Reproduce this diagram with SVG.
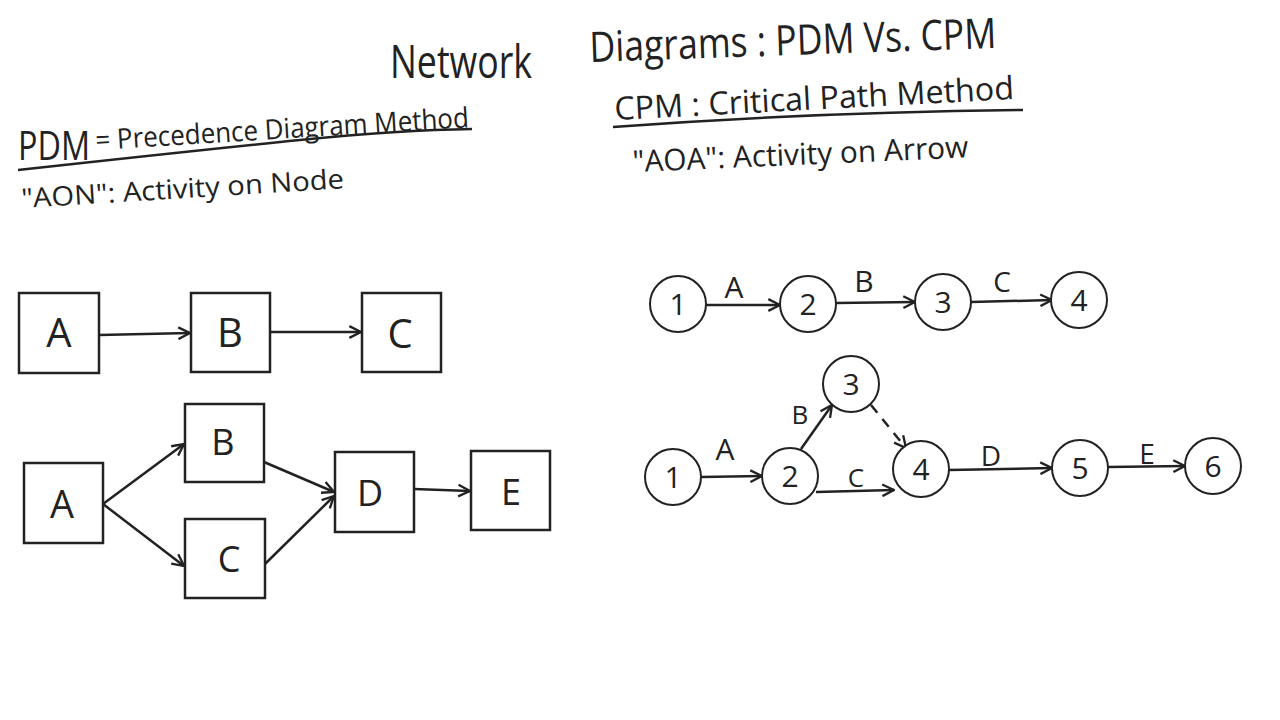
<svg xmlns="http://www.w3.org/2000/svg" width="1280" height="720" viewBox="0 0 1280 720">
<defs>
<marker id="arr" viewBox="0 0 12 12" refX="11" refY="6" markerWidth="14" markerHeight="14" markerUnits="userSpaceOnUse" orient="auto">
<path d="M1,1 L11,6 L1,11" fill="none" stroke="#222" stroke-width="2"/>
</marker>
<style>
.t{font-family:"Open Sans","Liberation Sans",sans-serif;fill:#222}
.box{fill:#fff;stroke:#222;stroke-width:2.5}
.cir{fill:#fff;stroke:#222;stroke-width:2}
.ln{stroke:#222;stroke-width:2.5;fill:none;marker-end:url(#arr)}
.lbl{font-family:"Open Sans","Liberation Sans",sans-serif;fill:#222;text-anchor:middle}
.ul{stroke:#222;stroke-width:2.5;fill:none}
</style>
</defs>
<rect width="1280" height="720" fill="#fff"/>

<g id="titles">
<text class="t" x="390" y="78" font-size="46" textLength="142" lengthAdjust="spacingAndGlyphs">Network</text>
<text class="t" x="590" y="62" font-size="42" textLength="407" lengthAdjust="spacingAndGlyphs" transform="rotate(-2 590 62)">Diagrams : PDM Vs. CPM</text>
<text class="t" x="18" y="160" font-size="40" textLength="72" lengthAdjust="spacingAndGlyphs">PDM</text>
<text class="t" x="96" y="150" font-size="28" textLength="374" lengthAdjust="spacingAndGlyphs" transform="rotate(-3.5 96 150)">= Precedence Diagram Method</text>
<path class="ul" d="M18,170 Q200,150 300,140 T472,129"/>
<text class="t" x="22" y="208" font-size="27" textLength="323" lengthAdjust="spacingAndGlyphs" transform="rotate(-3.5 22 208)">"AON": Activity on Node</text>
<text class="t" x="615" y="120" font-size="32" textLength="400" lengthAdjust="spacingAndGlyphs" transform="rotate(-3 615 120)">CPM : Critical Path Method</text>
<path class="ul" d="M613,127 Q820,112 1023,110"/>
<text class="t" x="633" y="172" font-size="30" textLength="336" lengthAdjust="spacingAndGlyphs" transform="rotate(-2.5 633 172)">"AOA": Activity on Arrow</text>
</g>

<g id="connectors">
<line class="ln" x1="99" y1="335" x2="190" y2="333"/>
<line class="ln" x1="270" y1="332" x2="361" y2="332"/>
<line class="ln" x1="103" y1="504" x2="184" y2="444"/>
<line class="ln" x1="103" y1="504" x2="184" y2="566"/>
<line class="ln" x1="264" y1="462" x2="334" y2="492"/>
<line class="ln" x1="265" y1="564" x2="334" y2="496"/>
<line class="ln" x1="414" y1="489" x2="470" y2="491"/>

<line class="ln" x1="706" y1="305" x2="780" y2="305"/>
<line class="ln" x1="836" y1="303" x2="915" y2="302"/>
<line class="ln" x1="971" y1="302" x2="1052" y2="300"/>

<line class="ln" x1="701" y1="477" x2="762" y2="476"/>
<line class="ln" x1="801" y1="449" x2="832" y2="405"/>
<line class="ln" x1="871" y1="405" x2="906" y2="448" stroke-dasharray="10 8"/>
<line class="ln" x1="816" y1="492" x2="894" y2="490"/>
<line class="ln" x1="949" y1="470" x2="1052" y2="468"/>
<line class="ln" x1="1108" y1="467" x2="1185" y2="466"/>

<text class="lbl" x="734" y="298" font-size="30">A</text>
<text class="lbl" x="864" y="292" font-size="30">B</text>
<text class="lbl" x="1002" y="292" font-size="28">C</text>
<text class="lbl" x="725" y="460" font-size="30">A</text>
<text class="lbl" x="800" y="424" font-size="26">B</text>
<text class="lbl" x="856" y="487" font-size="26">C</text>
<text class="lbl" x="991" y="466" font-size="28">D</text>
<text class="lbl" x="1147" y="464" font-size="28">E</text>
</g>

<g id="pdm-A1"><rect class="box" x="19" y="293" width="80" height="80"/><text class="lbl" x="59" y="347" font-size="40">A</text></g>
<g id="pdm-B1"><rect class="box" x="191" y="293" width="79" height="79"/><text class="lbl" x="230" y="347" font-size="40">B</text></g>
<g id="pdm-C1"><rect class="box" x="362" y="293" width="79" height="79"/><text class="lbl" x="400" y="348" font-size="40">C</text></g>
<g id="pdm-A2"><rect class="box" x="24" y="463" width="79" height="80"/><text class="lbl" x="62" y="518" font-size="38">A</text></g>
<g id="pdm-B2"><rect class="box" x="185" y="404" width="79" height="78"/><text class="lbl" x="223" y="455" font-size="36">B</text></g>
<g id="pdm-C2"><rect class="box" x="185" y="519" width="80" height="79"/><text class="lbl" x="229" y="572" font-size="36">C</text></g>
<g id="pdm-D"><rect class="box" x="335" y="452" width="79" height="80"/><text class="lbl" x="370" y="506" font-size="36">D</text></g>
<g id="pdm-E"><rect class="box" x="471" y="451" width="79" height="79"/><text class="lbl" x="511" y="505" font-size="36">E</text></g>

<g id="cpm1-1"><circle class="cir" cx="678" cy="304" r="28"/><text class="lbl" x="678" y="315" font-size="30">1</text></g>
<g id="cpm1-2"><circle class="cir" cx="808" cy="304" r="28"/><text class="lbl" x="808" y="315" font-size="30">2</text></g>
<g id="cpm1-3"><circle class="cir" cx="943" cy="302" r="28"/><text class="lbl" x="943" y="313" font-size="30">3</text></g>
<g id="cpm1-4"><circle class="cir" cx="1079" cy="300" r="28"/><text class="lbl" x="1079" y="311" font-size="30">4</text></g>

<g id="cpm2-1"><circle class="cir" cx="673" cy="477" r="28"/><text class="lbl" x="673" y="488" font-size="30">1</text></g>
<g id="cpm2-2"><circle class="cir" cx="790" cy="476" r="28"/><text class="lbl" x="790" y="487" font-size="30">2</text></g>
<g id="cpm2-3"><circle class="cir" cx="851" cy="384" r="28"/><text class="lbl" x="851" y="395" font-size="30">3</text></g>
<g id="cpm2-4"><circle class="cir" cx="921" cy="469" r="28"/><text class="lbl" x="921" y="480" font-size="30">4</text></g>
<g id="cpm2-5"><circle class="cir" cx="1080" cy="468" r="28"/><text class="lbl" x="1080" y="479" font-size="30">5</text></g>
<g id="cpm2-6"><circle class="cir" cx="1213" cy="466" r="28"/><text class="lbl" x="1213" y="477" font-size="30">6</text></g>
</svg>
